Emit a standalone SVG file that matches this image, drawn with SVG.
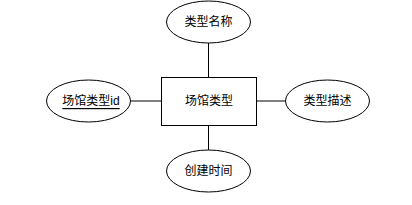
<svg xmlns="http://www.w3.org/2000/svg" width="412" height="205" viewBox="0 0 412 205">
<style>
.s{fill:#fff;stroke:#000;stroke-width:1}
.t{font-family:"Liberation Sans","Noto Sans CJK SC",sans-serif;font-size:12px;text-anchor:middle;dominant-baseline:central;fill:#000}
.c{stroke:#000;stroke-width:1;fill:none}
</style>
<rect width="412" height="205" fill="#fff"/>
<g id="connectors">
<line class="c" x1="208.5" y1="43" x2="208.5" y2="77"/>
<line class="c" x1="208.5" y1="125" x2="208.5" y2="150"/>
<line class="c" x1="131" y1="101" x2="161" y2="101"/>
<line class="c" x1="256" y1="101" x2="285" y2="101"/>
</g>
<g id="entity">
<rect class="s" x="161.5" y="77.5" width="95" height="48"/>
<text class="t" x="209" y="101">场馆类型</text>
</g>
<g id="attr-name">
<ellipse class="s" cx="208.5" cy="22" rx="42" ry="21"/>
<text class="t" x="208.5" y="22">类型名称</text>
</g>
<g id="attr-id">
<ellipse class="s" cx="88.5" cy="101" rx="42" ry="21"/>
<text class="t" x="91" y="101" text-decoration="underline">场馆类型id</text>
</g>
<g id="attr-desc">
<ellipse class="s" cx="327.5" cy="101" rx="42" ry="21"/>
<text class="t" x="327.5" y="101">类型描述</text>
</g>
<g id="attr-time">
<ellipse class="s" cx="208.5" cy="171" rx="42" ry="21"/>
<text class="t" x="208.5" y="171">创建时间</text>
</g>
</svg>
